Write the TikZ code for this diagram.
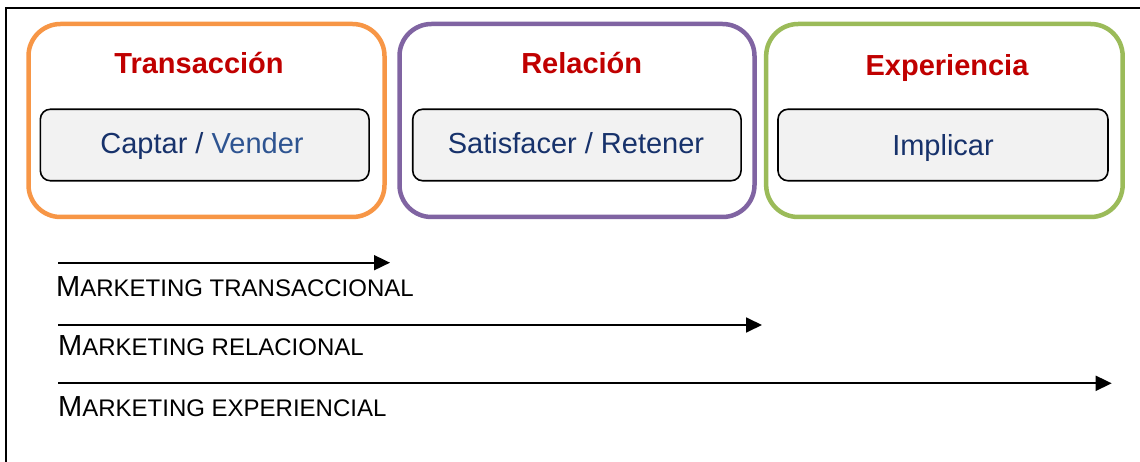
\documentclass[tikz,border=0pt]{standalone}
\usepackage{fontspec}
\setmainfont{Liberation Sans}
\usetikzlibrary{arrows.meta}
\definecolor{orangec}{HTML}{F79646}
\definecolor{purplec}{HTML}{8064A2}
\definecolor{greenc}{HTML}{9BBB59}
\definecolor{titlered}{HTML}{C00000}
\definecolor{navy}{HTML}{17326B}
\definecolor{lightnavy}{HTML}{2E5491}
\definecolor{innerfill}{HTML}{F2F2F2}
\tikzset{
  outerbox/.style={draw, line width=4.5pt, rounded corners=32pt, minimum width=356pt, minimum height=193pt, inner sep=0pt},
  innerbox/.style={draw=black, line width=1.6pt, fill=innerfill, rounded corners=10pt, minimum height=71.5pt, inner sep=0pt},
  titletext/.style={anchor=base, inner sep=0pt, text=titlered, font=\fontsize{29}{34}\selectfont\bfseries},
  boxtext/.style={anchor=base, inner sep=0pt, text=navy, font=\fontsize{29}{34}\selectfont},
  mktext/.style={anchor=base west, inner sep=0pt, text=black},
  timeline/.style={line width=1.8pt, -{Triangle[length=16pt, width=15pt]}},
  frameline/.style={line width=2.2pt}
}
\newcommand{\mkbig}[1]{{\fontsize{29}{34}\selectfont #1}}
\newcommand{\mksmall}[1]{{\fontsize{24}{28}\selectfont #1}}
\begin{document}
\begin{tikzpicture}[x=1pt,y=-1pt]
\useasboundingbox (0,0) rectangle (1140,462);
% frame
\coordinate (fbl) at (6.2,462);
\coordinate (ftl) at (6.2,8.3);
\coordinate (ftr) at (1140,8.3);
\draw[frameline] (fbl) -- (ftl) -- (ftr);

% outer boxes
\node[outerbox, draw=orangec, minimum width=356pt] (trans) at (206.5,120.5) {};
\node[outerbox, draw=purplec, minimum width=355pt] (rel) at (577,120.5) {};
\node[outerbox, draw=greenc, minimum width=356.5pt] (exp) at (944.4,120.5) {};

% inner boxes
\node[innerbox, minimum width=328.7pt] (transin) at (204.7,145) {};
\node[innerbox, minimum width=328.3pt] (relin) at (576.9,145) {};
\node[innerbox, minimum width=330pt] (expin) at (943,145) {};

% titles
\node[titletext] (transt) at (199,74) {Transacción};
\node[titletext] (relt) at (581.7,74) {Relación};
\node[titletext] (expt) at (947,75.5) {Experiencia};

% inner texts
\node[boxtext] (transx) at (202,154) {Captar /\ \textcolor{lightnavy}{Vender}};
\node[boxtext] (relx) at (576,154) {Satisfacer / Retener};
\node[boxtext] (expx) at (943,156) {Implicar};

% timeline arrows
\coordinate (a1s) at (58,262.7);
\coordinate (a1e) at (390,262.7);
\coordinate (a2s) at (58,325);
\coordinate (a2e) at (762,325);
\coordinate (a3s) at (58,383.3);
\coordinate (a3e) at (1111.7,383.3);
\draw[timeline] (a1s) -- (a1e);
\draw[timeline] (a2s) -- (a2e);
\draw[timeline] (a3s) -- (a3e);

% labels
\node[mktext] (m1) at (56,297) {\mkbig{M}\mksmall{ARKETING TRANSACCIONAL}};
\node[mktext] (m2) at (58,355) {\mkbig{M}\mksmall{ARKETING RELACIONAL}};
\node[mktext] (m3) at (58,416.7) {\mkbig{M}\mksmall{ARKETING EXPERIENCIAL}};
\end{tikzpicture}
\end{document}
